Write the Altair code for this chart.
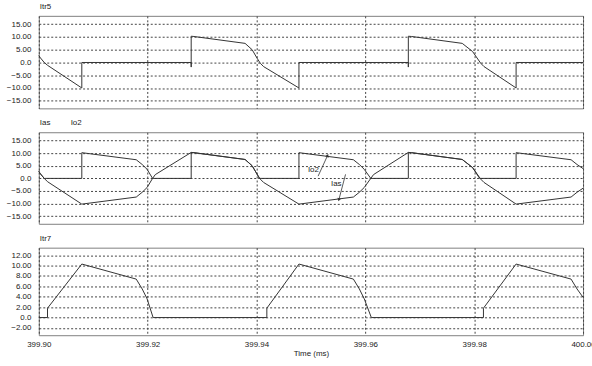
import altair as alt
import pandas as pd

FONT = "Liberation Sans"
LINE = "#333333"
TEXT = "#222222"

# ---------------- data (time in ms, current in A) ----------------
itr5_t = [399.9000, 399.9003, 399.9010, 399.9016, 399.9079, 399.9079, 399.9280, 399.9280,
          399.9280, 399.9285, 399.9379, 399.9392, 399.9401, 399.9407, 399.9413, 399.9478,
          399.9478, 399.9679, 399.9679, 399.9679, 399.9685, 399.9778, 399.9797, 399.9812,
          399.9818, 399.9877, 399.9877, 400.0000]
itr5_v = [2.8, 1.8, 0.0, -1.1, -10.0, 0.0, 0.0, -1.8,
          10.3, 10.2, 7.5, 5.0, 1.7, -0.3, -1.6, -10.0,
          0.0, 0.0, -1.8, 10.3, 10.2, 7.5, 4.3, -0.3,
          -1.6, -10.0, 0.0, 0.0]

ias_t = [399.9000, 399.9003, 399.9010, 399.9016, 399.9079, 399.9179, 399.9190, 399.9199,
         399.9209, 399.9214, 399.9280, 399.9285, 399.9379, 399.9392, 399.9401, 399.9407,
         399.9413, 399.9478, 399.9578, 399.9589, 399.9598, 399.9610, 399.9615, 399.9679,
         399.9685, 399.9778, 399.9797, 399.9812, 399.9818, 399.9877, 399.9978, 399.9989,
         400.0000]
ias_v = [2.8, 1.8, 0.0, -1.3, -10.2, -7.4, -5.5, -3.6,
         0.0, 1.5, 10.3, 10.2, 7.5, 5.0, 1.7, -0.3,
         -1.6, -10.2, -7.4, -5.5, -3.6, 0.0, 1.5, 10.3,
         10.2, 7.5, 4.3, -0.3, -1.6, -10.2, -7.4, -5.5,
         -3.9]

io2_t = [399.9000, 399.9003, 399.9010, 399.9079, 399.9079, 399.9179, 399.9190, 399.9199,
         399.9209, 399.9280, 399.9280, 399.9285, 399.9379, 399.9392, 399.9401, 399.9405,
         399.9478, 399.9478, 399.9578, 399.9589, 399.9598, 399.9610, 399.9679, 399.9679,
         399.9685, 399.9778, 399.9797, 399.9810, 399.9877, 399.9877, 399.9978, 399.9989,
         400.0000]
io2_v = [2.8, 1.8, 0.0, 0.0, 10.2, 7.4, 5.5, 3.6,
         0.0, 0.0, 10.3, 10.2, 7.5, 5.0, 1.7, 0.0,
         0.0, 10.2, 7.4, 5.5, 3.6, 0.0, 0.0, 10.3,
         10.2, 7.5, 4.3, 0.0, 0.0, 10.2, 7.4, 5.5,
         3.9]

itr7_t = [399.9000, 399.9016, 399.9016, 399.9079, 399.9179, 399.9190, 399.9199, 399.9210,
          399.9419, 399.9419, 399.9478, 399.9578, 399.9589, 399.9598, 399.9611, 399.9817,
          399.9817, 399.9877, 399.9978, 399.9989, 400.0000]
itr7_v = [0.0, 0.0, 1.8, 10.3, 7.4, 5.5, 3.6, 0.0,
          0.0, 1.8, 10.3, 7.4, 5.5, 3.6, 0.0, 0.0,
          1.8, 10.3, 7.4, 5.5, 3.9]

x_ticks = [399.90, 399.92, 399.94, 399.96, 399.98, 400.00]
y_ticks_a = [-15, -10, -5, 0, 5, 10, 15]
y_ticks_b = [-2, 0, 2, 4, 6, 8, 10, 12]

# annotations in panel 2 (data coordinates)
ann_label = ["Io2", "Ias"]
ann_text_t = [399.95046, 399.95466]
ann_text_v = [3.2, -2.3]
ann_tail_t = [399.95132, 399.95636]
ann_tail_v = [0.9, 1.6]
ann_head_t = [399.95302, 399.95516]
ann_head_v = [8.9, -8.25]
ann_head_angle = [24, 195]

# ---------------- helpers ----------------
def series(t, v):
    return pd.DataFrame({"t": t, "v": v, "i": list(range(len(t)))})

xscale = alt.Scale(domain=[399.90, 400.00], nice=False, zero=False)
LABEL_EXPR = "datum.value == 0 ? '0.0' : format(datum.value, '.2f')"

def x_enc(show, field="t"):
    if show:
        ax = alt.Axis(values=x_ticks, format=".2f", grid=True, ticks=False, domain=False,
                      labelFlush=False, labelPadding=5, title="Time (ms)", titlePadding=1)
    else:
        ax = alt.Axis(values=x_ticks, grid=True, ticks=False, domain=False, labels=False,
                      title=None)
    return alt.X(f"{field}:Q", scale=xscale, axis=ax)

def y_enc(domain, ticks, field="v"):
    return alt.Y(f"{field}:Q", scale=alt.Scale(domain=domain, nice=False, zero=False),
                 axis=alt.Axis(values=ticks, labelExpr=LABEL_EXPR, grid=True, ticks=False,
                               domain=False, labelPadding=8, minExtent=31, maxExtent=31,
                               labelOverlap=False, title=None))

def line(t, v, domain, ticks, show_x=False):
    return alt.Chart(series(t, v)).mark_line(color=LINE, strokeWidth=1).encode(
        x=x_enc(show_x), y=y_enc(domain, ticks), order="i:Q")

def label(text, xpos):
    return alt.Chart(pd.DataFrame({"s": [text]})).mark_text(
        font=FONT, fontSize=8, align="left", baseline="middle", fill=TEXT, color=TEXT
    ).encode(x=alt.value(xpos), y=alt.value(-9), text="s:N")

DOM_A = [-18.0, 18.3]
DOM_B = [-3.4, 13.45]
W = 547

p1 = alt.layer(
    line(itr5_t, itr5_v, DOM_A, y_ticks_a),
    label("Itr5", 1),
).properties(width=W, height=93)

ann = pd.DataFrame({"label": ann_label, "tt": ann_text_t, "tv": ann_text_v,
                    "t": ann_tail_t, "v": ann_tail_v, "t2": ann_head_t, "v2": ann_head_v,
                    "a": ann_head_angle})

ann_lines = alt.Chart(ann).mark_rule(color=LINE, strokeWidth=0.8).encode(
    x=x_enc(False), y=y_enc(DOM_A, y_ticks_a), x2="t2:Q", y2="v2:Q")
ann_heads = alt.Chart(ann).mark_point(shape="triangle", filled=True, size=14, color=LINE,
                                      opacity=1).encode(
    x=x_enc(False, "t2"), y=y_enc(DOM_A, y_ticks_a, "v2"),
    angle=alt.Angle("a:Q", scale=None))
ann_text = alt.Chart(ann).mark_text(font=FONT, fontSize=8, fill=TEXT, color=TEXT).encode(
    x=x_enc(False, "tt"), y=y_enc(DOM_A, y_ticks_a, "tv"), text="label:N")

p2 = alt.layer(
    line(ias_t, ias_v, DOM_A, y_ticks_a),
    line(io2_t, io2_v, DOM_A, y_ticks_a),
    ann_lines, ann_heads, ann_text,
    label("Ias", 1), label("Io2", 32),
).properties(width=W, height=92)

p3 = alt.layer(
    line(itr7_t, itr7_v, DOM_B, y_ticks_b, show_x=True),
    label("Itr7", 1),
).properties(width=W, height=88)

chart = alt.vconcat(
    p1, p2, p3, spacing=24, bounds="flush", background="white",
    padding={"left": 5, "top": 1, "right": -4, "bottom": 4},
).configure_axis(
    labelFont=FONT, labelFontSize=8, labelColor=TEXT,
    titleFont=FONT, titleFontSize=8, titleFontWeight="normal", titleColor=TEXT,
    gridColor="#444444", gridDash=[2, 2], gridWidth=1, gridOpacity=1,
).configure_view(stroke="#808080", strokeWidth=1)

chart.save("out.html", embed_options={"renderer": "svg", "actions": False})
